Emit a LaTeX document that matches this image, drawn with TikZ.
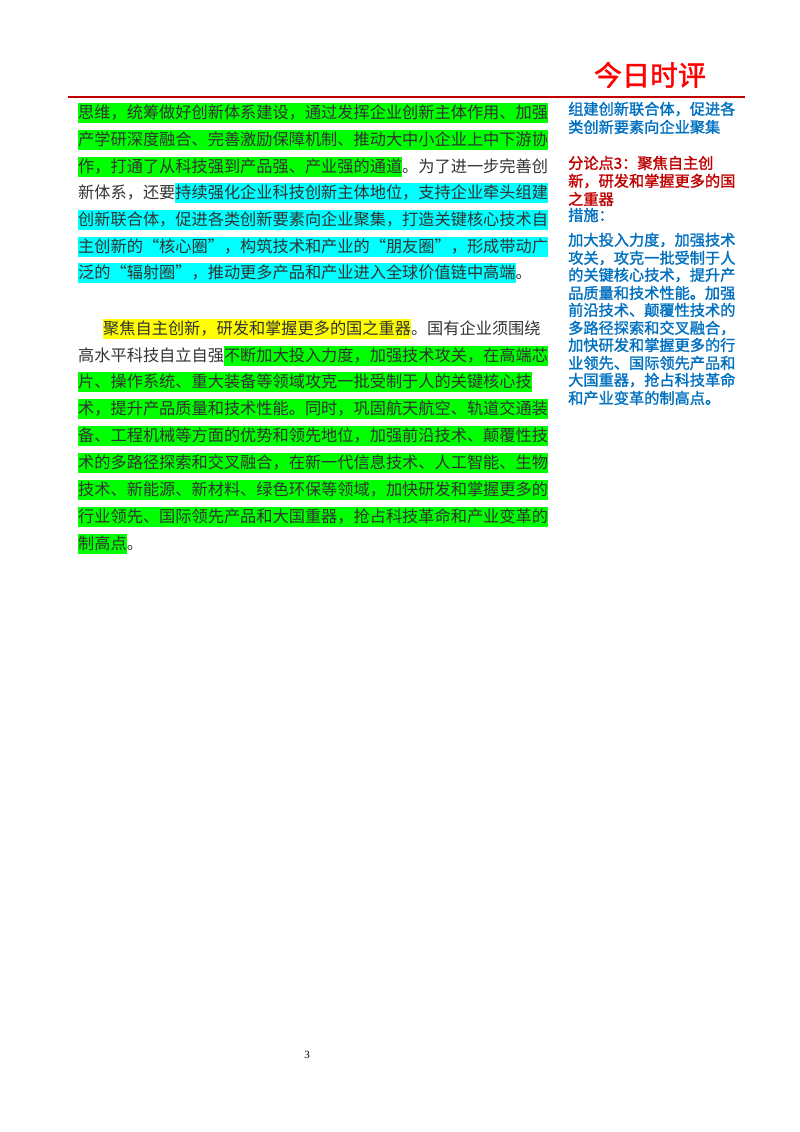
\documentclass[tikz,border=0pt]{standalone}
\usepackage{fontspec}
\setmainfont{Liberation Serif}
\newfontfamily\cjk{Noto Sans CJK SC}
\newfontfamily\cjkb{Noto Sans CJK SC}[FakeBold=1.5]
\definecolor{hlg}{RGB}{0,255,0}
\definecolor{hlc}{RGB}{0,255,255}
\definecolor{hly}{RGB}{255,255,0}
\definecolor{blu}{RGB}{0,112,192}
\definecolor{rd}{RGB}{192,0,0}
\definecolor{txt}{RGB}{50,50,50}
\newcommand{\hlx}[2]{{\setlength{\fboxsep}{0pt}\colorbox{#1}{\rule[-5pt]{0pt}{20pt}#2}}}
\tikzset{
  mainline/.style={anchor=west,inner sep=0pt,font=\cjk\fontsize{16.2}{18}\selectfont,text=txt},
  sideline/.style={anchor=west,inner sep=0pt,font=\cjkb\fontsize{15.2}{17}\selectfont,text=blu},
  sidered/.style={sideline,text=rd},
}
\begin{document}
\begin{tikzpicture}[x=1pt,y=-1pt]
\useasboundingbox (0,0) rectangle (800,1132);
\node[anchor=center,inner sep=0pt,text=red,font=\cjkb\fontsize{28}{30}\selectfont] (title) at (650,75) {今日时评};
\draw[rd,line width=2.5pt] (68,97) coordinate (la) -- (745,97) coordinate (lb);
% paragraph 1
\node[mainline] (a1) at (78,113) {\hlx{hlg}{思维，统筹做好创新体系建设，通过发挥企业创新主体作用、加强}};
\node[mainline] (a2) at (78,140) {\hlx{hlg}{产学研深度融合、完善激励保障机制、推动大中小企业上中下游协}};
\node[mainline] (a3) at (78,167) {\hlx{hlg}{作，打通了从科技强到产品强、产业强的通道}。为了进一步完善创};
\node[mainline] (a4) at (78,193) {新体系，还要\hlx{hlc}{持续强化企业科技创新主体地位，支持企业牵头组建}};
\node[mainline] (a5) at (78,220) {\hlx{hlc}{创新联合体，促进各类创新要素向企业聚集，打造关键核心技术自}};
\node[mainline] (a6) at (78,247) {\hlx{hlc}{主创新的“核心圈”，构筑技术和产业的“朋友圈”，形成带动广}};
\node[mainline] (a7) at (78,273) {\hlx{hlc}{泛的“辐射圈”，推动更多产品和产业进入全球价值链中高端}。};
% paragraph 2
\node[mainline] (b1) at (103,329) {\hlx{hly}{聚焦自主创新，研发和掌握更多的国之重器}。国有企业须围绕};
\node[mainline] (b2) at (78,356) {高水平科技自立自强\hlx{hlg}{不断加大投入力度，加强技术攻关，在高端芯}};
\node[mainline] (b3) at (78,382) {\hlx{hlg}{片、操作系统、重大装备等领域攻克一批受制于人的关键核心技}};
\node[mainline] (b4) at (78,409) {\hlx{hlg}{术，提升产品质量和技术性能。同时，巩固航天航空、轨道交通装}};
\node[mainline] (b5) at (78,436) {\hlx{hlg}{备、工程机械等方面的优势和领先地位，加强前沿技术、颠覆性技}};
\node[mainline] (b6) at (78,463) {\hlx{hlg}{术的多路径探索和交叉融合，在新一代信息技术、人工智能、生物}};
\node[mainline] (b7) at (78,490) {\hlx{hlg}{技术、新能源、新材料、绿色环保等领域，加快研发和掌握更多的}};
\node[mainline] (b8) at (78,517) {\hlx{hlg}{行业领先、国际领先产品和大国重器，抢占科技革命和产业变革的}};
\node[mainline] (b9) at (78,544) {\hlx{hlg}{制高点}。};
% side column
\node[sideline] (s1) at (568,109) {组建创新联合体，促进各};
\node[sideline] (s2) at (568,127) {类创新要素向企业聚集};
\node[sidered] (r1) at (568,163) {分论点3：聚焦自主创};
\node[sidered] (r2) at (568,181) {新，研发和掌握更多的国};
\node[sidered] (r3) at (568,199) {之重器};
\node[sideline] (m0) at (568,215) {措施：};
\node[sideline] (m1) at (568,240) {加大投入力度，加强技术};
\node[sideline] (m2) at (568,258) {攻关，攻克一批受制于人};
\node[sideline] (m3) at (568,275) {的关键核心技术，提升产};
\node[sideline] (m4) at (568,293) {品质量和技术性能。加强};
\node[sideline] (m5) at (568,310) {前沿技术、颠覆性技术的};
\node[sideline] (m6) at (568,328) {多路径探索和交叉融合，};
\node[sideline] (m7) at (568,345) {加快研发和掌握更多的行};
\node[sideline] (m8) at (568,363) {业领先、国际领先产品和};
\node[sideline] (m9) at (568,380) {大国重器，抢占科技革命};
\node[sideline] (m10) at (568,398) {和产业变革的制高点。};
\node[inner sep=0pt,font=\fontsize{11}{12}\selectfont] (pg) at (307,1055) {3};
\end{tikzpicture}
\end{document}
